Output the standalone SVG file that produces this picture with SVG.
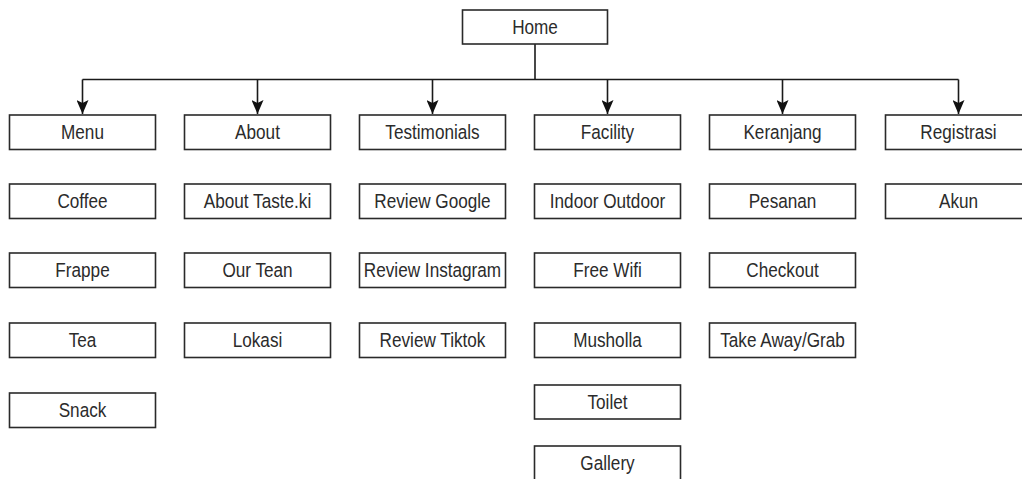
<svg xmlns="http://www.w3.org/2000/svg" width="1022" height="479" viewBox="0 0 1022 479">
  <style>
    .box { fill: #ffffff; stroke: #2a2a2a; stroke-width: 1.6; }
    .lbl { font-family: "Liberation Sans", Arial, sans-serif; font-size: 19.5px; fill: #2b2b2b; text-anchor: middle; }
    .conn { fill: none; stroke: #1a1a1a; stroke-width: 1.6; }
    .arr { marker-end: url(#arrow); }
  </style>
  <defs>
    <marker id="arrow" viewBox="0 0 14 12" refX="14" refY="6" markerWidth="14" markerHeight="12" markerUnits="userSpaceOnUse" orient="auto">
      <path d="M0,0 L3,6 L0,12 L14,6 Z" fill="#111111"/>
    </marker>
  </defs>
  <rect width="1022" height="479" fill="#ffffff"/>

  <g id="connectors">
    <line class="conn" x1="535" y1="44" x2="535" y2="79.5"/>
    <line class="conn" x1="82.5" y1="79.5" x2="958.5" y2="79.5"/>
    <path class="conn arr" d="M82.5,79.5 V114"/>
    <path class="conn arr" d="M257.5,79.5 V114"/>
    <path class="conn arr" d="M432.5,79.5 V114"/>
    <path class="conn arr" d="M607.5,79.5 V114"/>
    <path class="conn arr" d="M782.5,79.5 V114"/>
    <path class="conn arr" d="M958.5,79.5 V114"/>
  </g>

  <g id="home"><rect class="box" x="462.5" y="10" width="145" height="34"/><text class="lbl" transform="translate(535 34) scale(0.88 1)">Home</text></g>

  <g id="menu"><rect class="box" x="9.5" y="115" width="146" height="34.5"/><text class="lbl" transform="translate(82.5 139) scale(0.88 1)">Menu</text></g>
  <g id="coffee"><rect class="box" x="9.5" y="184" width="146" height="34.5"/><text class="lbl" transform="translate(82.5 208) scale(0.88 1)">Coffee</text></g>
  <g id="frappe"><rect class="box" x="9.5" y="253" width="146" height="34.5"/><text class="lbl" transform="translate(82.5 277) scale(0.88 1)">Frappe</text></g>
  <g id="tea"><rect class="box" x="9.5" y="323" width="146" height="34.5"/><text class="lbl" transform="translate(82.5 347) scale(0.88 1)">Tea</text></g>
  <g id="snack"><rect class="box" x="9.5" y="393" width="146" height="34.5"/><text class="lbl" transform="translate(82.5 417) scale(0.88 1)">Snack</text></g>

  <g id="about"><rect class="box" x="184.5" y="115" width="146" height="34.5"/><text class="lbl" transform="translate(257.5 139) scale(0.88 1)">About</text></g>
  <g id="about-taste"><rect class="box" x="184.5" y="184" width="146" height="34.5"/><text class="lbl" transform="translate(257.5 208) scale(0.88 1)">About Taste.ki</text></g>
  <g id="our-tean"><rect class="box" x="184.5" y="253" width="146" height="34.5"/><text class="lbl" transform="translate(257.5 277) scale(0.88 1)">Our Tean</text></g>
  <g id="lokasi"><rect class="box" x="184.5" y="323" width="146" height="34.5"/><text class="lbl" transform="translate(257.5 347) scale(0.88 1)">Lokasi</text></g>

  <g id="testimonials"><rect class="box" x="359.5" y="115" width="146" height="34.5"/><text class="lbl" transform="translate(432.5 139) scale(0.88 1)">Testimonials</text></g>
  <g id="review-google"><rect class="box" x="359.5" y="184" width="146" height="34.5"/><text class="lbl" transform="translate(432.5 208) scale(0.88 1)">Review Google</text></g>
  <g id="review-instagram"><rect class="box" x="359.5" y="253" width="146" height="34.5"/><text class="lbl" transform="translate(432.5 277) scale(0.88 1)">Review Instagram</text></g>
  <g id="review-tiktok"><rect class="box" x="359.5" y="323" width="146" height="34.5"/><text class="lbl" transform="translate(432.5 347) scale(0.88 1)">Review Tiktok</text></g>

  <g id="facility"><rect class="box" x="534.5" y="115" width="146" height="34.5"/><text class="lbl" transform="translate(607.5 139) scale(0.88 1)">Facility</text></g>
  <g id="indoor-outdoor"><rect class="box" x="534.5" y="184" width="146" height="34.5"/><text class="lbl" transform="translate(607.5 208) scale(0.88 1)">Indoor Outdoor</text></g>
  <g id="free-wifi"><rect class="box" x="534.5" y="253" width="146" height="34.5"/><text class="lbl" transform="translate(607.5 277) scale(0.88 1)">Free Wifi</text></g>
  <g id="musholla"><rect class="box" x="534.5" y="323" width="146" height="34.5"/><text class="lbl" transform="translate(607.5 347) scale(0.88 1)">Musholla</text></g>
  <g id="toilet"><rect class="box" x="534.5" y="385" width="146" height="34"/><text class="lbl" transform="translate(607.5 409) scale(0.88 1)">Toilet</text></g>
  <g id="gallery"><rect class="box" x="534.5" y="446" width="146" height="35"/><text class="lbl" transform="translate(607.5 470) scale(0.88 1)">Gallery</text></g>

  <g id="keranjang"><rect class="box" x="709.5" y="115" width="146" height="34.5"/><text class="lbl" transform="translate(782.5 139) scale(0.88 1)">Keranjang</text></g>
  <g id="pesanan"><rect class="box" x="709.5" y="184" width="146" height="34.5"/><text class="lbl" transform="translate(782.5 208) scale(0.88 1)">Pesanan</text></g>
  <g id="checkout"><rect class="box" x="709.5" y="253" width="146" height="34.5"/><text class="lbl" transform="translate(782.5 277) scale(0.88 1)">Checkout</text></g>
  <g id="take-away"><rect class="box" x="709.5" y="323" width="146" height="34.5"/><text class="lbl" transform="translate(782.5 347) scale(0.88 1)">Take Away/Grab</text></g>

  <g id="registrasi"><rect class="box" x="885.5" y="115" width="146" height="34.5"/><text class="lbl" transform="translate(958.5 139) scale(0.88 1)">Registrasi</text></g>
  <g id="akun"><rect class="box" x="885.5" y="184" width="146" height="34.5"/><text class="lbl" transform="translate(958.5 208) scale(0.88 1)">Akun</text></g>
</svg>
